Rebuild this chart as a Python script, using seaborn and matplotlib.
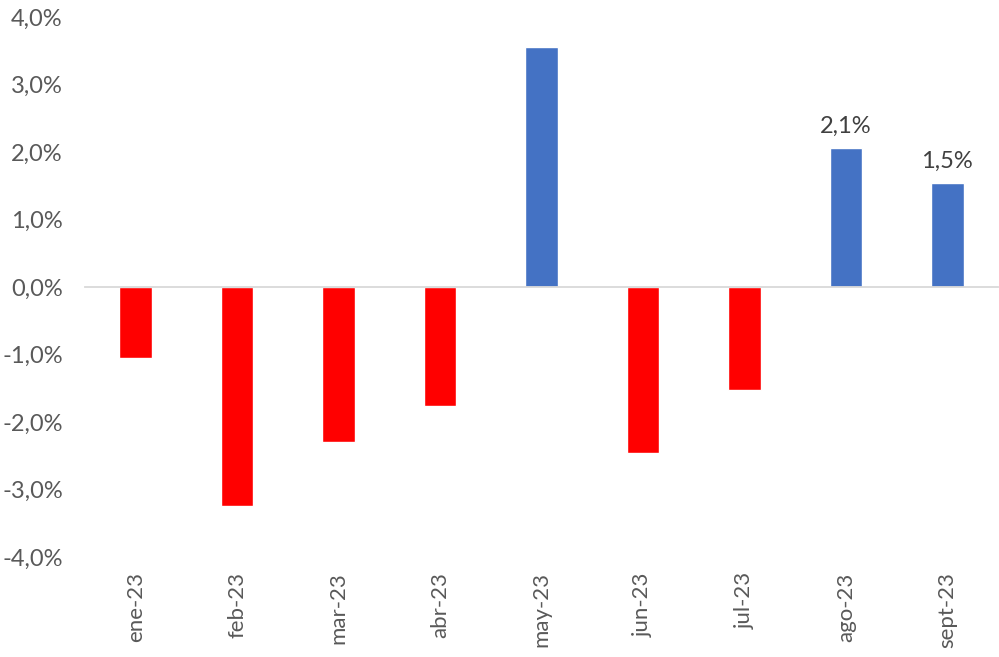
import pandas as pd
import seaborn as sns
import matplotlib.pyplot as plt
from matplotlib.ticker import FuncFormatter

# Datos
meses = ['ene-23', 'feb-23', 'mar-23', 'abr-23', 'may-23', 'jun-23', 'jul-23', 'ago-23', 'sept-23']
variacion = [-1.05, -3.24, -2.30, -1.77, 3.56, -2.46, -1.53, 2.06, 1.54]
etiquetas = {'ago-23': '2,1%', 'sept-23': '1,5%'}

df = pd.DataFrame({'mes': meses, 'var': variacion})
colores = {m: ('#4472C4' if v > 0 else '#FF0000') for m, v in zip(meses, variacion)}

sns.set_style('white')
plt.rcParams['font.family'] = ['Lato', 'DejaVu Sans']

fig = plt.figure(figsize=(9.99, 6.57), dpi=100)
ax = fig.add_axes([85 / 999, 100 / 657, 913 / 999, 540 / 657])

sns.barplot(data=df, x='mes', y='var', hue='mes', palette=colores,
            width=0.32, legend=False, ax=ax, saturation=1)

ax.set_ylim(-4, 4)
ax.set_xlim(-0.5, len(meses) - 0.5)
ax.set_yticks([-4, -3, -2, -1, 0, 1, 2, 3, 4])
ax.yaxis.set_major_formatter(FuncFormatter(lambda v, p: f'{v:.1f}%'.replace('.', ',')))
ax.tick_params(axis='y', length=0, pad=16, labelsize=17, labelcolor='#595959')
ax.set_xlabel('')
ax.set_ylabel('')

for s in ['left', 'right', 'top']:
    ax.spines[s].set_visible(False)
# linea del cero con marcas entre categorias
ax.spines['bottom'].set_position(('data', 0))
ax.spines['bottom'].set_color('#d9d9d9')
ax.spines['bottom'].set_linewidth(1.3)
ax.set_xticks([i - 0.5 for i in range(len(meses) + 1)], minor=True)
ax.tick_params(axis='x', which='minor', length=6, width=1.3, color='#d9d9d9', direction='out')
ax.tick_params(axis='x', which='major', length=0, labelbottom=False)

# etiquetas de meses abajo
sec = ax.secondary_xaxis('bottom')
sec.set_xticks(range(len(meses)))
sec.set_xticklabels(meses, rotation=90, va='top', ha='center')
sec.tick_params(length=0, pad=11, labelsize=16, labelcolor='#595959')
sec.spines['bottom'].set_visible(False)

# etiquetas de datos
for i, (m, v) in enumerate(zip(meses, variacion)):
    if m in etiquetas:
        ax.annotate(etiquetas[m], (i, v), xytext=(0, 8), textcoords='offset points',
                    ha='center', va='bottom', fontsize=17, color='#404040')

fig.savefig('out.png', dpi=100)
